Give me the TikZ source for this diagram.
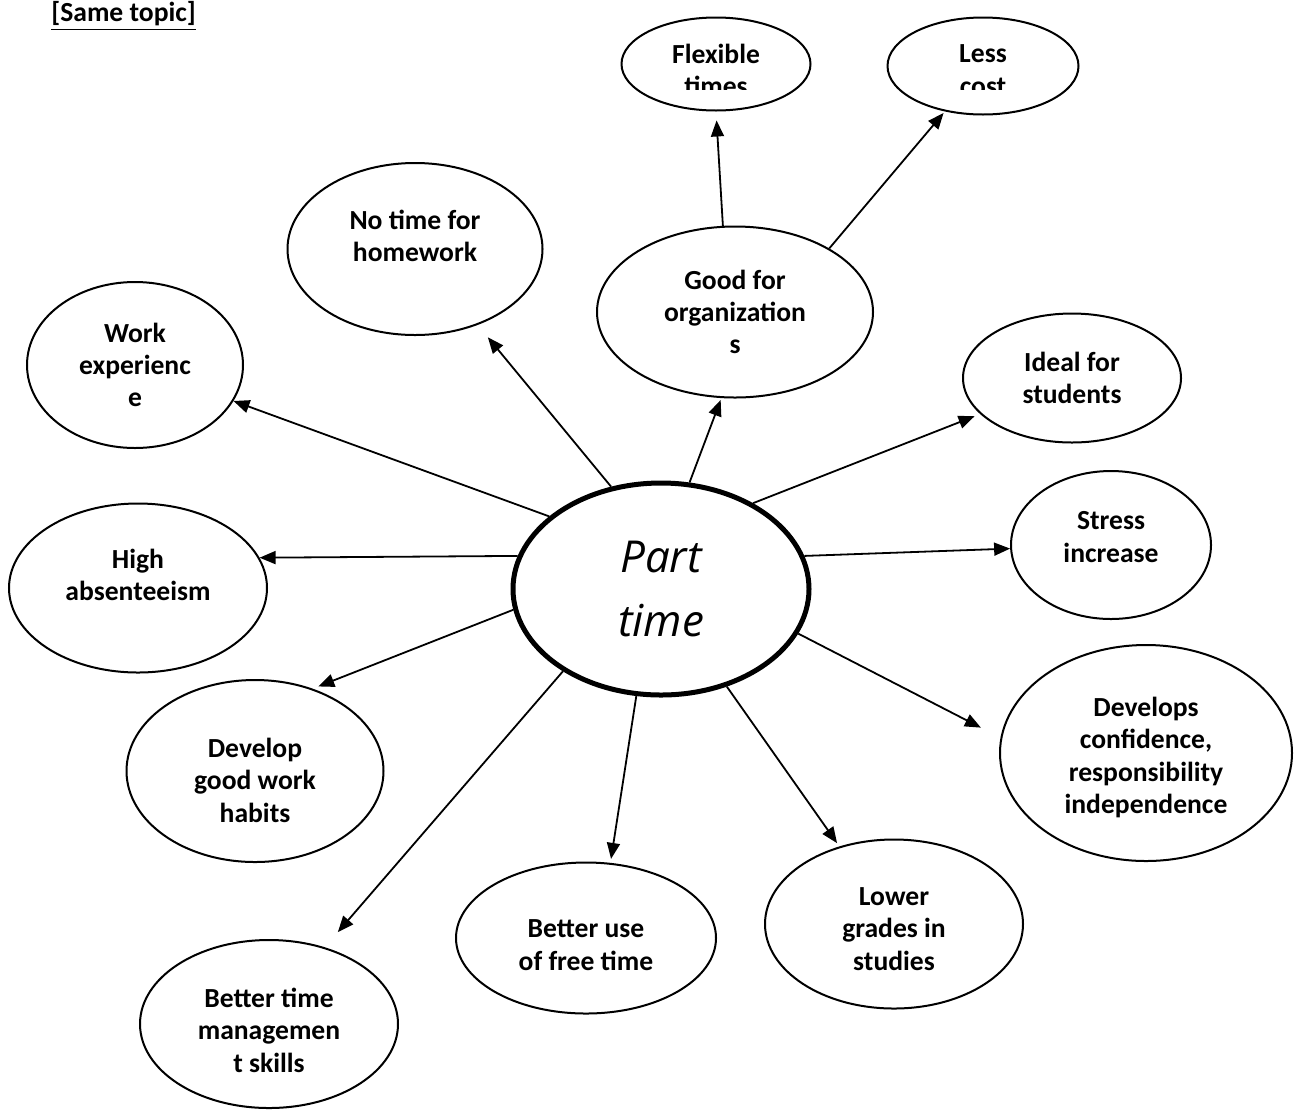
\documentclass[tikz,border=0pt]{standalone}
\usepackage{fontspec}
\setmainfont{Carlito}
\newfontfamily\handfont{Open Sans}
\usetikzlibrary{arrows.meta,shapes.geometric}

% push the text of a bubble down a little
\newcommand\dn[1]{\rule{0pt}{#1}}

\tikzset{
  bubble/.style={ellipse,draw,line width=1pt,inner sep=0pt,align=center,font=\fontsize{13.8}{16.2}\selectfont\bfseries},
  txt/.style={align=center,inner sep=0pt,font=\fontsize{13.8}{16.2}\selectfont\bfseries},
  arr/.style={-{Triangle[length=8pt,width=6.5pt]},line width=0.9pt}
}

\begin{document}
\begin{tikzpicture}[x=0.5pt,y=-0.5pt]
\useasboundingbox (0,0) rectangle (1294,1109);

\node[txt,anchor=west] (title) at (51,16) {\underline{[Same topic]}};

% centre
\node[ellipse,draw,line width=2.5pt,minimum width=148pt,minimum height=106pt,align=center,font=\handfont\itshape\fontsize{22}{32}\selectfont] (part) at (661,589) {Part\\time};

% top pair
\node[bubble,minimum width=94.5pt,minimum height=46.5pt] (flex) at (716,64) {};
\node[bubble,minimum width=95.5pt,minimum height=48.5pt] (less) at (983,66) {};
\begin{scope}
\clip (600,0) rectangle (1100,89);
\node[txt] (flextext) at (716,70) {Flexible\\times};
\node[txt] (lesstext) at (983,70) {Less\\cost};
\end{scope}

\node[bubble,minimum width=138pt,minimum height=85.5pt] (good) at (735,312) {Good for\\organization\\s};
\node[bubble,minimum width=127.5pt,minimum height=86pt] (notime) at (415,249) {No time for\\homework\\[-3pt]};
\node[bubble,minimum width=108pt,minimum height=83pt] (work) at (135,365) {Work\\experienc\\e};
\node[bubble,minimum width=109pt,minimum height=64.5pt] (ideal) at (1072,378) {Ideal for\\students};
\node[bubble,minimum width=129pt,minimum height=84.5pt] (high) at (138,588) {High\\absenteeism\\[-3pt]};
\node[bubble,minimum width=100pt,minimum height=74pt] (stress) at (1111,545) {Stress\\increase\\[-8pt]};
\node[bubble,minimum width=128.5pt,minimum height=91pt] (habits) at (255,771) {\dn{19pt}Develop\\good work\\habits};
\node[bubble,minimum width=146pt,minimum height=108pt] (conf) at (1146,753) {\dn{14pt}Develops\\confidence,\\responsibility\\independence};
\node[bubble,minimum width=129pt,minimum height=84.5pt] (lower) at (894,924) {\dn{14pt}Lower\\grades in\\studies};
\node[bubble,minimum width=130pt,minimum height=75.5pt] (freetime) at (586,938) {\dn{16pt}Better use\\of free time};
\node[bubble,minimum width=129pt,minimum height=84pt] (manage) at (269,1024) {\dn{16pt}Better time\\managemen\\t skills};

\draw[arr,shorten >=4.5pt] (good.98) -- (flex.south);
\draw[arr,shorten >=1pt] (good.34) -- (less.-130);

\draw[arr] (part.147) -- (work);
\draw[arr,shorten >=8pt] (part.116) -- (notime);
\draw[arr,shorten >=1pt] (part.75) -- (good.-99);
\draw[arr,shorten >=3pt] (part.43) -- (ideal);
\draw[arr] (part.13) -- (stress);
\draw[arr] (part.167) -- (high.14);
\draw[arr,shorten >=3pt] (part.-172) -- (habits.55);
\draw[arr,shorten >=11pt] (part.-18) -- (conf.174);
\draw[arr,shorten >=2pt] (part.-56) -- (lower);
\draw[arr,shorten >=2pt] (part.-103) -- (freetime.72);
\draw[arr,shorten >=10pt] (part.-140) -- (manage.54);

\end{tikzpicture}
\end{document}
